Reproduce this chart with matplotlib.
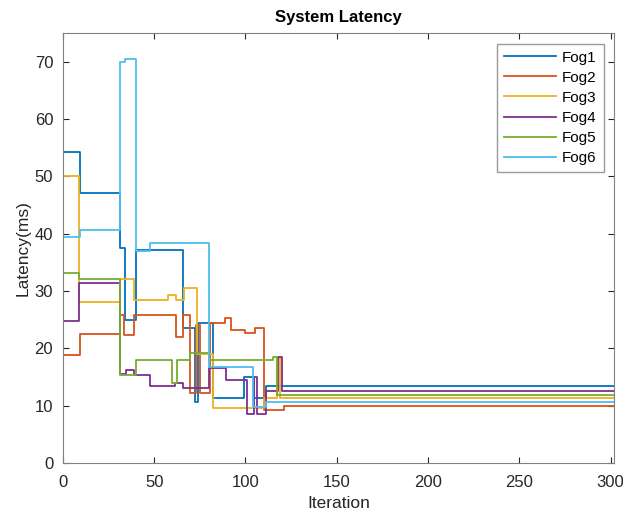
import numpy as np
import matplotlib
matplotlib.use('Agg')
import matplotlib.pyplot as plt

plt.rcParams['font.family'] = ['Liberation Sans', 'DejaVu Sans']

# change points (iteration) and latency (ms), held until next change
it1 = [0, 9.5, 31, 34, 40, 65.5, 72.5, 74, 82, 99, 104.5, 111, 302]
fog1 = [54.2, 47.0, 37.5, 25.0, 37.2, 23.6, 10.6, 24.4, 11.3, 15.0, 11.3, 13.4, 13.4]

it2 = [0, 9.5, 31, 33.5, 39, 62, 65.5, 69.5, 73, 75, 80.5, 89, 92, 100, 105, 110, 121, 302]
fog2 = [18.8, 22.5, 25.8, 22.3, 25.8, 22.0, 25.8, 12.2, 24.0, 12.2, 24.4, 25.3, 23.2, 22.7, 23.6, 9.2, 10.0, 10.0]

it3 = [0, 9, 31, 39, 57.5, 62, 66.5, 73.5, 82, 110, 117.5, 119, 302]
fog3 = [50.0, 28.1, 32.0, 28.4, 29.3, 28.4, 30.5, 19.0, 9.6, 11.3, 18.3, 11.3, 11.3]

it4 = [0, 9, 31, 34.5, 39, 47.5, 61.5, 65.5, 80, 89.5, 101, 104.5, 106.5, 111, 118, 120, 302]
fog4 = [24.7, 31.3, 15.5, 16.2, 15.4, 13.4, 14.0, 13.0, 16.6, 14.5, 8.5, 15.0, 8.5, 12.6, 18.5, 12.6, 12.6]

it5 = [0, 9, 31.5, 40, 59.5, 62.5, 69.5, 80, 115, 117, 302]
fog5 = [33.2, 32.0, 15.4, 18.0, 14.0, 18.0, 19.2, 18.0, 18.5, 11.9, 11.9]

it6 = [0, 9.5, 31, 34, 40, 47.5, 80, 104, 111, 302]
fog6 = [39.4, 40.7, 70.0, 70.5, 36.9, 38.3, 16.8, 9.8, 10.6, 10.6]

series = [(it1, fog1, 'Fog1'), (it2, fog2, 'Fog2'), (it3, fog3, 'Fog3'),
          (it4, fog4, 'Fog4'), (it5, fog5, 'Fog5'), (it6, fog6, 'Fog6')]
colors = ['#0072BD', '#D95319', '#EDB120', '#7E2F8E', '#77AC30', '#4DBEEE']

fig = plt.figure(figsize=(6.23, 5.16), dpi=100)
ax = fig.add_axes([0.101, 0.103, 0.885, 0.833])

for (x, y, lab), c in zip(series, colors):
    ax.plot(x, y, drawstyle='steps-post', color=c, lw=1.3, label=lab)

ax.set_xlim(0, 302)
ax.set_ylim(0, 75)
ax.set_xticks(np.arange(0, 301, 50))
ax.set_yticks(np.arange(0, 71, 10))
ax.tick_params(direction='in', top=True, right=True, labelsize=12, colors='#262626', length=4)
ax.tick_params(axis='x', pad=9)
ax.tick_params(axis='y', pad=7)
for s in ax.spines.values():
    s.set_color('#808080')
ax.set_xlabel('Iteration', fontsize=12.5, color='#262626', labelpad=4)
ax.set_ylabel('Latency(ms)', fontsize=12.5, color='#262626', labelpad=3)
ax.set_title('System Latency', fontsize=12, fontweight='bold', pad=8)

leg = ax.legend(loc='upper right', fontsize=11, handlelength=3.4, fancybox=False,
                edgecolor='#808080', borderaxespad=0.7, labelspacing=0.4, handletextpad=0.4,
                borderpad=0.45)
leg.get_frame().set_linewidth(1.0)

plt.savefig('out.png', dpi=100)
